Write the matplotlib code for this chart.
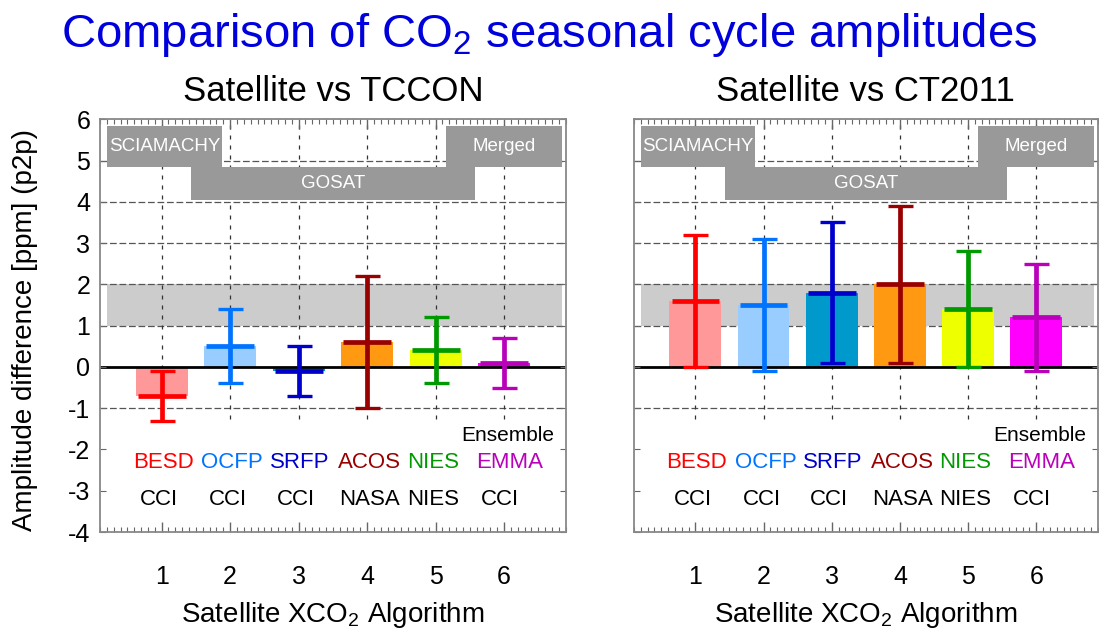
import numpy as np
import matplotlib
matplotlib.use("Agg")
import matplotlib.pyplot as plt
from matplotlib.patches import Rectangle
from matplotlib.ticker import MultipleLocator

plt.rcParams['font.family'] = ['Liberation Sans', 'DejaVu Sans']
plt.rcParams['mathtext.fontset'] = 'custom'
plt.rcParams['mathtext.rm'] = 'Liberation Sans'
plt.rcParams['mathtext.it'] = 'Liberation Sans:italic'
plt.rcParams['axes.unicode_minus'] = False

# algorithms and the groups that produce them
algorithms = ["BESD", "OCFP", "SRFP", "ACOS", "NIES", "EMMA"]
groups = ["CCI", "CCI", "CCI", "NASA", "NIES", "CCI"]
positions = np.arange(1, 7)

# amplitude differences (ppm, peak-to-peak) and their uncertainties
tccon_diff = [-0.7, 0.5, -0.1, 0.6, 0.4, 0.1]
tccon_err = [0.6, 0.9, 0.6, 1.6, 0.8, 0.6]
ct_diff = [1.6, 1.5, 1.8, 2.0, 1.4, 1.2]
ct_err = [1.6, 1.6, 1.7, 1.9, 1.4, 1.3]

bar_colors = ["#ff9999", "#99ccff", "#0099cc", "#ff9911", "#eeff00", "#ff00ff"]
line_colors = ["#ff0000", "#0073ff", "#0000cc", "#990000", "#009900", "#bb00bb"]

# instrument periods shown as grey blocks: label, x0, x1, y0, y1
periods = [
    ("SCIAMACHY", 0.2, 1.88, 4.85, 5.85),
    ("GOSAT", 1.43, 5.57, 4.05, 4.85),
    ("Merged", 5.15, 6.85, 4.85, 5.85),
]
# small horizontal nudges so neighbouring names don't collide
name_nudge = [0.02, 0.03, 0.02, 0.04, -0.04, 0.08]
group_nudge = [-0.04, -0.03, -0.04, 0.04, -0.04, -0.06]


def draw_panel(ax, diff, err, title, show_ylabels):
    ax.set_xlim(0.1, 6.9)
    ax.set_ylim(-4, 6)

    # target band and grid
    ax.add_patch(Rectangle((0.2, 1), 6.65, 1, color="#cccccc", lw=0, zorder=0.4))
    for y in [-1, 1, 2, 3, 4, 5]:
        ax.axhline(y, color="#555555", lw=0.9, ls=(0, (5.4, 2.2)), zorder=0.5)
    ax.vlines(positions, -1.25, 6, colors="#333333", lw=0.9,
              linestyles=(0, (3.2, 4.8)), zorder=0.5)

    ax.bar(positions, diff, width=0.76, color=bar_colors, zorder=1)
    ax.axhline(0, color="black", lw=2, zorder=1.5)
    ax.hlines(diff, positions - 0.35, positions + 0.35, colors=line_colors,
              lw=3.4, zorder=2)
    for p, d, e, c in zip(positions, diff, err, line_colors):
        ax.errorbar(p, d, yerr=e, fmt="none", ecolor=c, elinewidth=3.4,
                    capsize=9, capthick=2.4, zorder=2.2)

    for label, x0, x1, y0, y1 in periods:
        ax.add_patch(Rectangle((x0, y0), x1 - x0, y1 - y0, color="#999999",
                               lw=0, zorder=3))
        ax.text((x0 + x1) / 2, (y0 + y1) / 2, label, color="white",
                fontsize=13.5, ha="center", va="center", zorder=4)

    ax.text(6.73, -1.65, "Ensemble", fontsize=15, ha="right", va="center")
    for p, name, grp, c, dn, dg in zip(positions, algorithms, groups,
                                        line_colors, name_nudge, group_nudge):
        ax.text(p + dn, -2.32, name, color=c, fontsize=16, ha="center", va="center")
        ax.text(p + dg, -3.21, grp, color="black", fontsize=16, ha="center", va="center")

    ax.set_xticks(positions)
    ax.xaxis.set_minor_locator(MultipleLocator(0.1))
    ax.set_yticks(range(-4, 7))
    ax.tick_params(axis="x", which="both", direction="in", top=True, bottom=True,
                   color="#666666", labelsize=18, pad=24)
    ax.tick_params(axis="x", which="major", length=7, width=1)
    ax.tick_params(axis="x", which="minor", length=3.5, width=0.8)
    ax.tick_params(axis="y", direction="in", left=True, right=True, length=4,
                   color="#666666", labelsize=18, pad=7, labelleft=show_ylabels)
    for s in ax.spines.values():
        s.set_color("#888888")
        s.set_linewidth(1.3)

    ax.set_title(title, fontsize=25, pad=13)
    ax.set_xlabel("Satellite XCO$_2$ Algorithm", fontsize=20, va="top")
    ax.xaxis.set_label_coords(0.5, -0.165)


fig = plt.figure(figsize=(10.99, 6.37), dpi=100)
ax1 = fig.add_axes([0.091, 0.1648, 0.4237, 0.6479])
ax2 = fig.add_axes([0.5769, 0.1648, 0.4219, 0.6479])

draw_panel(ax1, tccon_diff, tccon_err, "Satellite vs TCCON", True)
draw_panel(ax2, ct_diff, ct_err, "Satellite vs CT2011", False)

ax1.set_ylabel("Amplitude difference [ppm] (p2p)", fontsize=20)
ax1.yaxis.set_label_coords(-0.133, 0.49)

fig.text(0.5, 0.926, "Comparison of CO$_2$ seasonal cycle amplitudes",
         color="#0000dd", fontsize=34, ha="center", va="baseline")

fig.savefig("out.png", dpi=100)
